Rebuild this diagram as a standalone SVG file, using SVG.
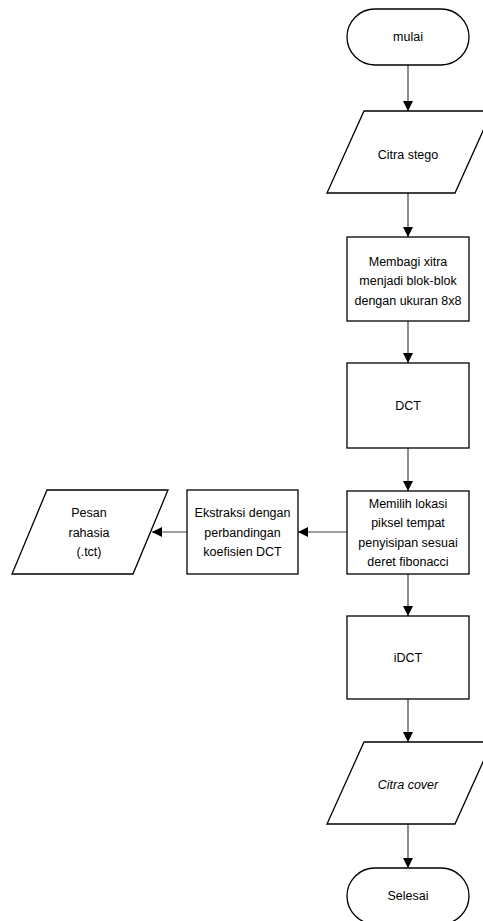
<svg xmlns="http://www.w3.org/2000/svg" width="483" height="921" viewBox="0 0 483 921">
<style>
.s{fill:#fff;stroke:#000;stroke-width:1.3}
.c{fill:none;stroke:#404040;stroke-width:1.2}
text{font-family:"Liberation Sans",Arial,sans-serif;font-size:12.5px;fill:#000;text-anchor:middle;dominant-baseline:central}
</style>
<defs>
<marker id="a" markerUnits="userSpaceOnUse" markerWidth="11" markerHeight="11" refX="10" refY="5" orient="auto">
<path d="M0,0 L10,5 L0,10 Z" fill="#000"/>
</marker>
</defs>
<rect width="483" height="921" fill="#fff"/>
<g id="connectors">
<line class="c" x1="408" y1="65" x2="408" y2="111" marker-end="url(#a)"/>
<line class="c" x1="408" y1="193" x2="408" y2="237" marker-end="url(#a)"/>
<line class="c" x1="408" y1="321" x2="408" y2="363" marker-end="url(#a)"/>
<line class="c" x1="408" y1="448" x2="408" y2="491" marker-end="url(#a)"/>
<line class="c" x1="408" y1="574" x2="408" y2="616" marker-end="url(#a)"/>
<line class="c" x1="408" y1="699" x2="408" y2="742" marker-end="url(#a)"/>
<line class="c" x1="408" y1="824" x2="408" y2="868" marker-end="url(#a)"/>
<line class="c" x1="347" y1="532" x2="298" y2="532" marker-end="url(#a)"/>
<line class="c" x1="187" y1="532" x2="152" y2="532" marker-end="url(#a)"/>
</g>
<g id="mulai">
<rect class="s" x="347" y="9" width="122" height="56" rx="28" ry="28"/>
<text x="408" y="37">mulai</text>
</g>
<g id="citra-stego">
<polygon class="s" points="364,111 492,111 455,193 327,193"/>
<text x="408" y="155">Citra stego</text>
</g>
<g id="membagi">
<rect class="s" x="347" y="237" width="122" height="84"/>
<text x="408" y="261.5">Membagi xitra</text>
<text x="408" y="281">menjadi blok-blok</text>
<text x="408" y="300.5">dengan ukuran 8x8</text>
</g>
<g id="dct">
<rect class="s" x="347" y="363" width="122" height="85"/>
<text x="408" y="405.5">DCT</text>
</g>
<g id="memilih">
<rect class="s" x="347" y="491" width="122" height="83"/>
<text x="408" y="503.5">Memilih lokasi</text>
<text x="408" y="523">piksel tempat</text>
<text x="408" y="542.5">penyisipan sesuai</text>
<text x="408" y="562">deret fibonacci</text>
</g>
<g id="ekstraksi">
<rect class="s" x="187" y="490" width="111" height="84"/>
<text x="242.5" y="513">Ekstraksi dengan</text>
<text x="242.5" y="532.5">perbandingan</text>
<text x="242.5" y="552">koefisien DCT</text>
</g>
<g id="pesan">
<polygon class="s" points="47,490 168,490 133,574 12,574"/>
<text x="89" y="513">Pesan</text>
<text x="89" y="532.5">rahasia</text>
<text x="89" y="552">(.tct)</text>
</g>
<g id="idct">
<rect class="s" x="347" y="616" width="122" height="83"/>
<text x="408" y="657.5">iDCT</text>
</g>
<g id="citra-cover">
<polygon class="s" points="364,742 492,742 455,824 327,824"/>
<text x="408" y="785" font-style="italic">Citra cover</text>
</g>
<g id="selesai">
<rect class="s" x="347" y="868" width="122" height="56" rx="28" ry="28"/>
<text x="408" y="896">Selesai</text>
</g>
</svg>
